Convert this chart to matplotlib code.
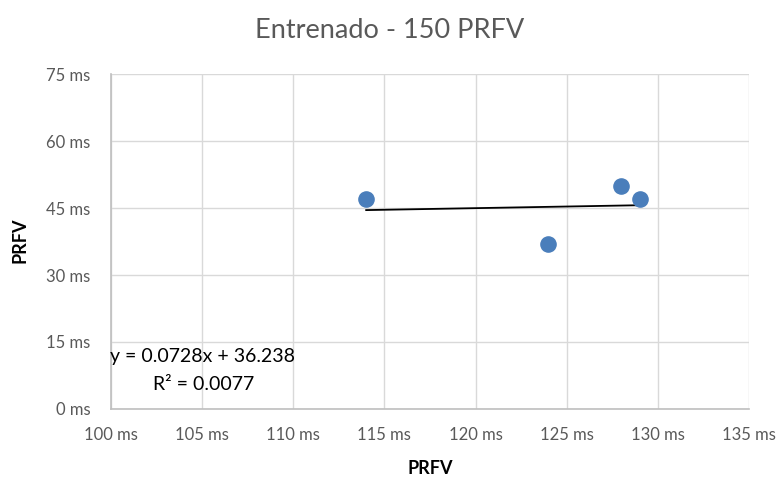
import numpy as np
import matplotlib
matplotlib.use("Agg")
import matplotlib.pyplot as plt
from matplotlib.ticker import FuncFormatter

plt.rcParams['font.family'] = ['Lato', 'DejaVu Sans']

# data
prfv_x = [114, 124, 128, 129]
prfv_y = [47, 37, 50, 47]
x_ticks = [100, 105, 110, 115, 120, 125, 130, 135]
y_ticks = [0, 15, 30, 45, 60, 75]

fig = plt.figure(figsize=(7.81, 4.78), dpi=100)
ax = fig.add_axes([0.1421, 0.1444, 0.8169, 0.7006])

ax.scatter(prfv_x, prfv_y, s=120, color='#4a7ebb', zorder=3)

# linear trendline
slope, intercept = np.polyfit(prfv_x, prfv_y, 1)
pred = np.polyval([slope, intercept], prfv_x)
r2 = 1 - np.sum((np.array(prfv_y) - pred) ** 2) / np.sum((np.array(prfv_y) - np.mean(prfv_y)) ** 2)
xs = np.array([min(prfv_x), max(prfv_x)])
ax.plot(xs, slope * xs + intercept, color='black', lw=1.3, zorder=2)

ax.set_xlim(100, 135)
ax.set_ylim(0, 75)
ax.set_xticks(x_ticks)
ax.set_yticks(y_ticks)
fmt = FuncFormatter(lambda v, p: f"{v:.0f} ms")
ax.xaxis.set_major_formatter(fmt)
ax.yaxis.set_major_formatter(fmt)
ax.tick_params(length=0, labelsize=12, labelcolor='#595959')
ax.tick_params(axis='x', pad=13)
ax.tick_params(axis='y', pad=15)
ax.grid(True, color='#d9d9d9', lw=1)
ax.set_axisbelow(True)
for s in ['top', 'right']:
    ax.spines[s].set_visible(False)
for s in ['left', 'bottom']:
    ax.spines[s].set_color('#bfbfbf')
    ax.spines[s].set_linewidth(1.2)

fig.text(430 / 781, 1 - 468 / 478, 'PRFV', fontsize=13, fontweight='bold', ha='center', va='center')
fig.text(20 / 781, 1 - 240 / 478, 'PRFV', fontsize=13, fontweight='bold', ha='center', va='center', rotation=90)
fig.text(390 / 781, 1 - 31 / 478, 'Entrenado - 150 PRFV', fontsize=19.5, color='#595959', ha='center', va='center')

ax.text(99.95, 11.7, f"y = {slope:.4f}x + {intercept:.3f}", fontsize=14, va='center', ha='left')
ax.text(105.1, 5.4, f"R² = {r2:.4f}", fontsize=14, va='center', ha='center')

fig.savefig('out.png', dpi=100)
